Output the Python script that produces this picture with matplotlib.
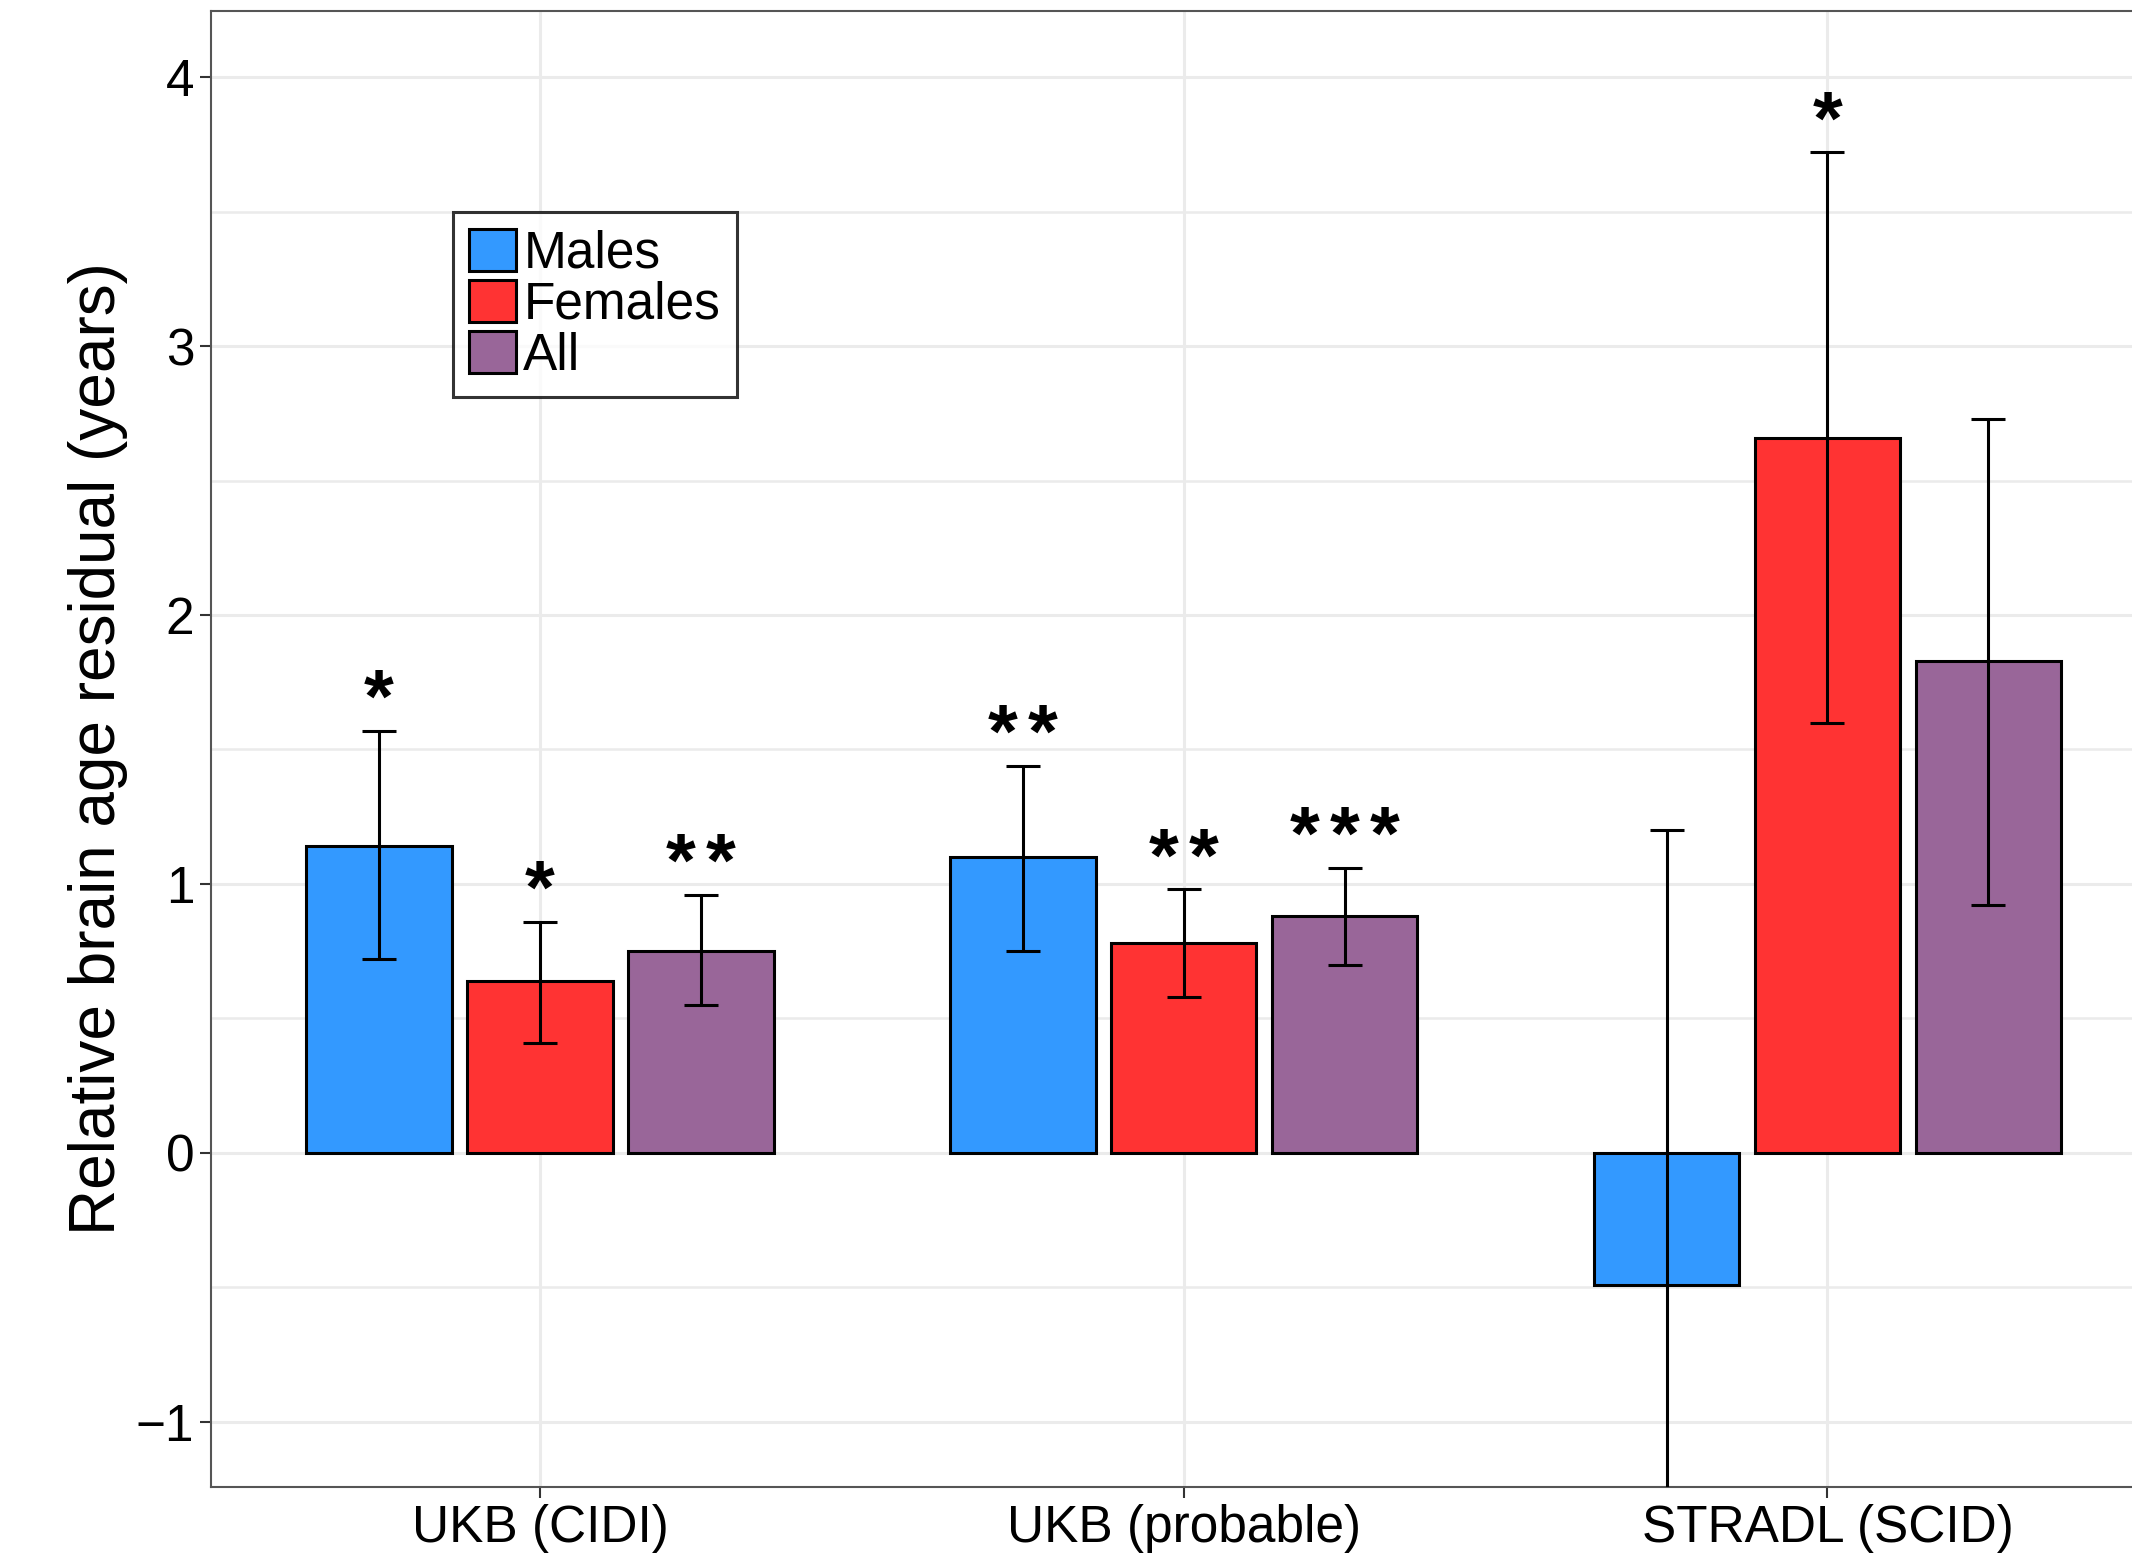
import matplotlib
matplotlib.use("Agg")
import matplotlib.pyplot as plt
from matplotlib.ticker import MultipleLocator
import numpy as np

plt.rcParams['font.family'] = ['Liberation Sans', 'DejaVu Sans']

groups = ["UKB (CIDI)", "UKB (probable)", "STRADL (SCID)"]
series = ["Males", "Females", "All"]
colors = ["#3399FF", "#FF3333", "#996699"]

males = [1.14, 1.10, -0.49]
males_lo = [0.72, 0.75, -2.18]
males_hi = [1.57, 1.44, 1.20]
males_sig = ["*", "**", ""]

females = [0.64, 0.78, 2.66]
females_lo = [0.41, 0.58, 1.60]
females_hi = [0.86, 0.98, 3.72]
females_sig = ["*", "**", "*"]

all_ = [0.75, 0.88, 1.83]
all_lo = [0.55, 0.70, 0.92]
all_hi = [0.96, 1.06, 2.73]
all_sig = ["**", "***", ""]

values = [males, females, all_]
lows = [males_lo, females_lo, all_lo]
highs = [males_hi, females_hi, all_hi]
sigs = [males_sig, females_sig, all_sig]

fig = plt.figure(figsize=(21.32, 15.54), dpi=100)
ax = fig.add_axes([0.099, 0.0431, 0.9393, 0.9498])

x = np.arange(1, len(groups) + 1)
offsets = [-0.25, 0.0, 0.25]
width = 0.226
grey = "#EBEBEB"
star_step = 0.062

for k in range(3):
    xs = x + offsets[k]
    v = np.array(values[k])
    lo = np.array(lows[k])
    hi = np.array(highs[k])
    ax.bar(xs, v, width=width, color=colors[k], edgecolor="black",
           linewidth=2.2, label=series[k], zorder=2)
    ax.errorbar(xs, v, yerr=[v - lo, hi - v], fmt="none", ecolor="black",
                elinewidth=2.2, capsize=12, capthick=2.2, zorder=3)
    for xi, h, s in zip(xs, hi, sigs[k]):
        n = len(s)
        for j in range(n):
            ax.text(xi + (j - (n - 1) / 2) * star_step, h + 0.105, "*",
                    ha="center", va="center", fontsize=55,
                    fontweight="bold", zorder=4)

ax.set_xlim(0.489, 3.6)
ax.set_ylim(-1.243, 4.246)
ax.set_xticks(x)
ax.set_xticklabels(groups)
ax.yaxis.set_major_locator(MultipleLocator(1))
ax.yaxis.set_minor_locator(MultipleLocator(0.5))
ax.grid(True, which="major", color=grey, linewidth=2.2, zorder=0)
ax.grid(True, which="minor", axis="y", color=grey, linewidth=1.8, zorder=0)
ax.set_axisbelow(True)

ax.tick_params(axis="both", which="major", labelsize=37, length=8,
               width=1.5, color="#333333", pad=4)
ax.tick_params(axis="both", which="minor", length=0)
for sp in ax.spines.values():
    sp.set_color("#555555")
    sp.set_linewidth(1.5)

ax.set_ylabel("Relative brain age residual (years)", fontsize=46)
ax.yaxis.set_label_coords(-0.0417, 0.5)

leg = ax.legend(loc="upper left", bbox_to_anchor=(0.1208, 0.8638),
                fontsize=37, frameon=True, fancybox=False,
                handlelength=0.9, handleheight=0.9, handletextpad=0.15,
                labelspacing=0.02, borderpad=0.32, borderaxespad=0)
leg.get_frame().set_edgecolor("black")
leg.get_frame().set_linewidth(2.2)

fig.savefig("out.png", dpi=100)
